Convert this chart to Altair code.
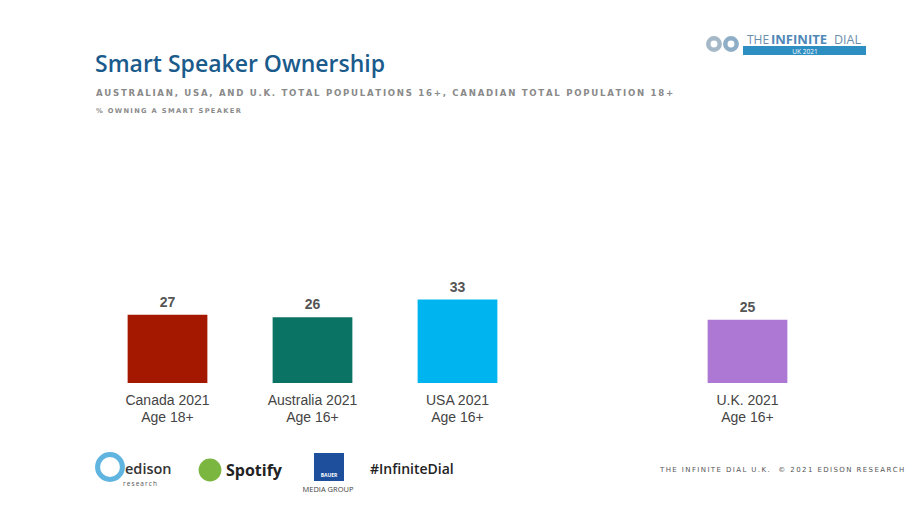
import altair as alt
import pandas as pd

# ---- data ----
categories = ["Canada 2021|Age 18+", "Australia 2021|Age 16+", "USA 2021|Age 16+", " ", "U.K. 2021|Age 16+"]
bar_categories = ["Canada 2021|Age 18+", "Australia 2021|Age 16+", "USA 2021|Age 16+", "U.K. 2021|Age 16+"]
values = [27, 26, 33, 25]
colors = ["#A51800", "#0B7364", "#00B5EF", "#AD78D4"]

title_text = "Smart Speaker Ownership"
subtitle_text = "AUSTRALIAN, USA, AND U.K. TOTAL POPULATIONS 16+, CANADIAN TOTAL POPULATION 18+"
note_text = "% OWNING A SMART SPEAKER"
footer_text = "THE INFINITE DIAL U.K.  © 2021 EDISON RESEARCH"

df = pd.DataFrame({"cat": bar_categories, "value": values, "color": colors})

PL, PT = 95, 130  # plot origin in page pixels
W, H = 725, 253


def spaced(s, sep="\u2009"):
    return sep.join(s)


dummy = pd.DataFrame({"a": [0]})


def deco(text, x, y, **kw):
    return alt.Chart(dummy).mark_text(text=text, align=kw.pop("align", "left"),
                                      baseline=kw.pop("baseline", "alphabetic"), **kw).encode(
        x=alt.value(x - PL), y=alt.value(y - PT))


def box(x1, y1, x2, y2, color):
    return alt.Chart(dummy).mark_rect(color=color).encode(
        x=alt.value(x1 - PL), x2=alt.value(x2 - PL), y=alt.value(y1 - PT), y2=alt.value(y2 - PT))


def dot(x, y, size, **kw):
    return alt.Chart(dummy).mark_point(**kw).encode(
        x=alt.value(x - PL), y=alt.value(y - PT), size=alt.value(size))


xscale = alt.Scale(domain=categories, paddingInner=0.45, paddingOuter=0.225)
xenc = alt.X("cat:N", scale=xscale, sort=categories,
             axis=alt.Axis(title=None, domain=False, ticks=False, labelAngle=0, labelPadding=10,
                           labelExpr="split(datum.label, '|')", labelFont="Liberation Sans",
                           labelFontSize=14, labelColor="#444444", labelLineHeight=17))
yenc = alt.Y("value:Q", scale=alt.Scale(domain=[0, 100]), axis=None)

bars = alt.Chart(df).mark_bar().encode(
    x=xenc, y=yenc, color=alt.Color("color:N", scale=None))
labels = alt.Chart(df).mark_text(baseline="bottom", dy=-5, font="Liberation Sans", fontWeight="bold",
                                 fontSize=14, color="#555555").encode(
    x=alt.X("cat:N", scale=xscale, sort=categories), y=yenc, text="value:Q")

layers = [bars, labels,
          deco(title_text, 95, 72, font="Open Sans", fontWeight=600, fontSize=23, color="#1A5B8C"),
          deco(spaced(subtitle_text), 96, 96, font="DejaVu Sans", fontWeight="bold", fontSize=8.6, color="#8A8A8A"),
          deco(spaced(note_text), 96, 113, font="DejaVu Sans", fontWeight="bold", fontSize=6.7, color="#8A8A8A"),
          deco(spaced(footer_text), 660, 472, font="DejaVu Sans", fontSize=7, color="#555555"),
          # top-right logo
          dot(714, 44, 130, shape="circle", filled=False, strokeWidth=4.5, color="#7E9BB0"),
          dot(731, 44, 130, shape="circle", filled=False, strokeWidth=4.5, color="#5E8CAE"),
          deco("THE", 747, 44, font="Open Sans", fontSize=12, color="#6B8EAA"),
          deco("INFINITE", 771, 44, font="Open Sans", fontWeight="bold", fontSize=13, color="#4F88B8"),
          deco("DIAL", 834, 44, font="Open Sans", fontSize=12.5, color="#6B8EAA"),
          box(743, 46, 866, 55, "#2D8EC2"),
          deco("UK 2021", 805, 53.5, align="center", font="Open Sans", fontSize=6.5, color="#FFFFFF"),
          # footer logos
          dot(110, 467, 620, shape="circle", filled=False, strokeWidth=5, color="#1E97D4"),
          deco("edison", 125, 474, font="Open Sans", fontWeight=600, fontSize=14.5, color="#333333"),
          deco(spaced("research"), 123, 486, font="Open Sans", fontSize=6.5, color="#555555"),
          dot(210, 470, 520, shape="circle", filled=True, opacity=1, color="#7AB640"),
          deco("Spotify", 226, 476, font="Open Sans", fontWeight="bold", fontSize=16, color="#222222"),
          box(314, 453, 344, 481, "#1D4F9C"),
          deco("BAUER", 329, 477, align="center", font="Open Sans", fontWeight="bold", fontSize=5, color="#FFFFFF"),
          deco("MEDIA GROUP", 328, 492, align="center", font="Open Sans", fontSize=7.5, color="#444444"),
          deco("#InfiniteDial", 370, 474, font="Open Sans", fontWeight=600, fontSize=14, color="#222222"),
          ]

chart = alt.layer(*layers).properties(
    width=W, height=H,
    autosize=alt.AutoSizeParams(type="none"),
    padding={"left": PL, "top": PT, "right": 920 - PL - W, "bottom": 518 - PT - H},
).configure(background="white").configure_view(stroke=None)

chart.save("out.html", embed_options={"renderer": "svg", "actions": False})
